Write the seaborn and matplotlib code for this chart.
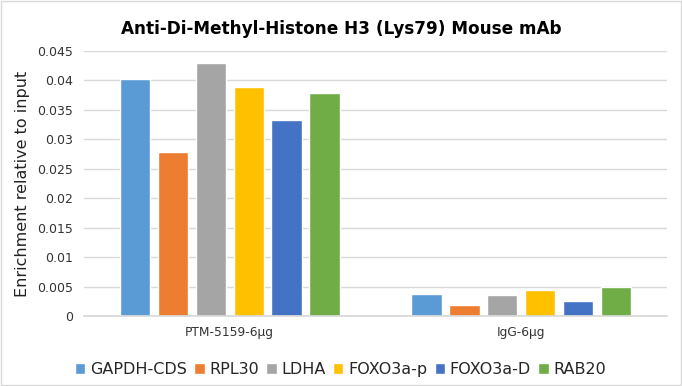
import matplotlib
matplotlib.use("Agg")
import matplotlib.pyplot as plt
import seaborn as sns
import pandas as pd

# values
groups = ["PTM-5159-6μg", "IgG-6μg"]
targets = ["GAPDH-CDS", "RPL30", "LDHA", "FOXO3a-p", "FOXO3a-D", "RAB20"]
ptm_vals = [0.0402, 0.0279, 0.0430, 0.0389, 0.0332, 0.0378]
igg_vals = [0.0037, 0.0018, 0.0035, 0.0045, 0.0026, 0.0049]
colors = ["#5B9BD5", "#ED7D31", "#A5A5A5", "#FFC000", "#4472C4", "#70AD47"]

df = pd.DataFrame({
    "group": [groups[0]] * len(targets) + [groups[1]] * len(targets),
    "target": targets * 2,
    "value": ptm_vals + igg_vals,
})

sns.set_theme(style="white")
plt.rcParams["font.family"] = ["DejaVu Sans"]

fig = plt.figure(figsize=(6.82, 3.86), dpi=100)
ax = fig.add_axes([84 / 682, 70 / 386, 583 / 682, 265 / 386])

sns.barplot(data=df, x="group", y="value", hue="target", hue_order=targets,
            palette=colors, width=0.78, gap=0.2, saturation=1, ax=ax,
            errorbar=None)

ax.set_ylim(0, 0.045)
ax.set_yticks([i * 0.005 for i in range(10)])
ax.set_yticklabels(["0"] + [f"{i * 0.005:g}" for i in range(1, 10)], fontsize=9, color="#333333")
ax.tick_params(axis="x", labelsize=8.8, colors="#333333", length=0, pad=7)
ax.tick_params(axis="y", length=0, pad=8)
ax.yaxis.grid(True, color="#D9D9D9", linewidth=1)
ax.set_axisbelow(True)
for s in ["top", "right", "left"]:
    ax.spines[s].set_visible(False)
ax.spines["bottom"].set_color("#D9D9D9")
ax.set_xlabel("")
ax.set_ylabel("Enrichment relative to input", fontsize=11.5, color="#222222", labelpad=5)

ax.set_title("Anti-Di-Methyl-Histone H3 (Lys79) Mouse mAb", fontsize=12.2, fontweight="bold",
             color="black", pad=12, x=(341 - 84) / 583)

ax.legend(loc="lower center", bbox_to_anchor=(0.44, -0.255), ncol=6, frameon=False,
          fontsize=11.5, handlelength=0.65, handleheight=0.65, handletextpad=0.3,
          columnspacing=0.45, borderaxespad=0)

# light frame around the whole chart
fig.patches.append(plt.Rectangle((0.001, 0.002), 0.997, 0.995, transform=fig.transFigure,
                                 fill=False, edgecolor="#D9D9D9", linewidth=1))

fig.savefig("out.png", dpi=100)
